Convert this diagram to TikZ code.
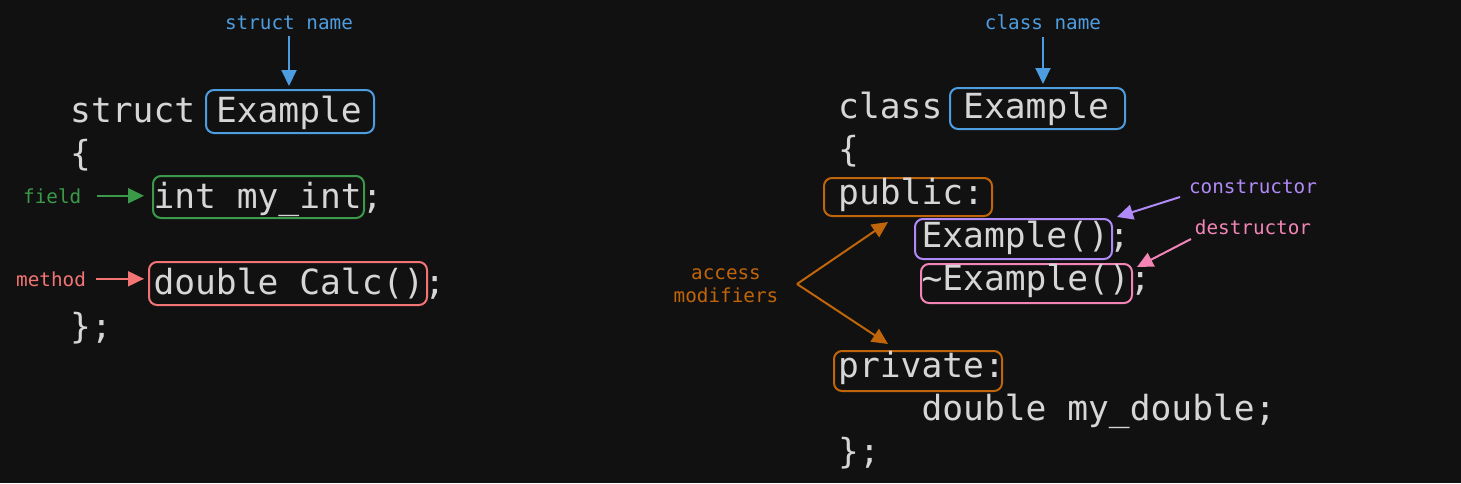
\documentclass[tikz,border=0pt]{standalone}
\usepackage{fontspec}
\usetikzlibrary{arrows.meta,fit}
\newfontfamily\codefont{DejaVu Sans Mono}
\definecolor{bg}{HTML}{111111}
\definecolor{codegray}{HTML}{D6D6D6}
\definecolor{cblue}{HTML}{4E9DE0}
\definecolor{cgreen}{HTML}{3A9A4A}
\definecolor{cred}{HTML}{F27474}
\definecolor{corange}{HTML}{C0650A}
\definecolor{cpurple}{HTML}{B08AF8}
\definecolor{cpink}{HTML}{F285B5}
\tikzset{
  code/.style={font=\codefont\fontsize{34.6}{40}\selectfont, text=codegray, inner sep=0pt, anchor=base west},
  lbl/.style={font=\codefont\fontsize{19.3}{23}\selectfont, inner sep=0pt, anchor=base},
  hbox/.style={draw=#1, line width=2pt, rounded corners=8pt, inner sep=0pt},
  arr/.style={draw=#1, line width=2pt, -{Triangle[length=16pt,width=15pt]}, fill=#1}
}
\begin{document}
\begin{tikzpicture}[x=1pt,y=-1pt]
\fill[bg] (0,0) rectangle (1461,483);
\useasboundingbox (0,0) rectangle (1461,483);
% ---------- struct ----------
\node[hbox=cblue, fit={(206,90) (374,133)}] (sbox) {};
\node[hbox=cgreen, fit={(153,176) (364,218)}] (fbox) {};
\node[hbox=cred, fit={(149,262) (427,305)}] (mbox) {};
\node[code] (s1) at (70,122) {struct Example};
\node[code] (s2) at (70,165.2) {\{};
\node[code] (s3) at (153.3,208.4) {int my\_int;};
\node[code] (s5) at (153.3,294.8) {double Calc();};
\node[code] (s6) at (70,338) {\};};
\node[lbl, text=cblue] (sn) at (289,29) {struct name};
\node[lbl, text=cgreen, anchor=base west] (fl) at (23,203) {field};
\node[lbl, text=cred, anchor=base west] (ml) at (16,286) {method};
\draw[arr=cblue, shorten <=7pt, shorten >=3pt] (sn.south) -- (sn.south |- sbox.north);
\draw[arr=cgreen, shorten <=16pt, shorten >=8pt] (fl.east) -- (fl.east -| fbox.west);
\draw[arr=cred, shorten <=10pt, shorten >=4pt] (ml.east) -- (ml.east -| mbox.west);
% ---------- class ----------
\node[hbox=cblue, fit={(950,88) (1125,129)}] (cbox) {};
\node[hbox=corange, fit={(824,178) (992,216)}] (pub) {};
\node[hbox=cpurple, fit={(915,219) (1112,259)}] (ctor) {};
\node[hbox=cpink, fit={(921,264) (1132,303)}] (dtor) {};
\node[hbox=corange, fit={(834,351) (1002,391)}] (priv) {};
\node[code] (c1) at (838,118) {class Example};
\node[code] (c2) at (838,161.2) {\{};
\node[code] (c3) at (838,204.4) {public:};
\node[code] (c4) at (921.3,247.6) {Example();};
\node[code] (c5) at (921.3,290.8) {\char"007E Example();};
\node[code] (c7) at (838,377.2) {private:};
\node[code] (c8) at (921.3,420.4) {double my\_double;};
\node[code] (c9) at (838,463.6) {\};};
\node[lbl, text=cblue] (cn) at (1043,29) {class name};
\node[lbl, text=corange, align=center, anchor=center] (am) at (726,286) {access\\modifiers};
\node[lbl, text=cpurple] (con) at (1253,193) {constructor};
\node[lbl, text=cpink] (des) at (1253,234) {destructor};
\draw[arr=cblue, shorten <=8pt, shorten >=3pt] (cn.south) -- (cn.south |- cbox.north);
\coordinate (fork) at (797,284);
\coordinate (pubtip) at (888,222);
\coordinate (privtip) at (888,344);
\draw[arr=corange] (fork) -- (pubtip);
\draw[arr=corange] (fork) -- (privtip);
\coordinate (constart) at (1180,197);
\coordinate (contip) at (1117,217);
\coordinate (desstart) at (1191,239);
\coordinate (destip) at (1137,267);
\draw[arr=cpurple] (constart) -- (contip);
\draw[arr=cpink] (desstart) -- (destip);
\end{tikzpicture}
\end{document}
